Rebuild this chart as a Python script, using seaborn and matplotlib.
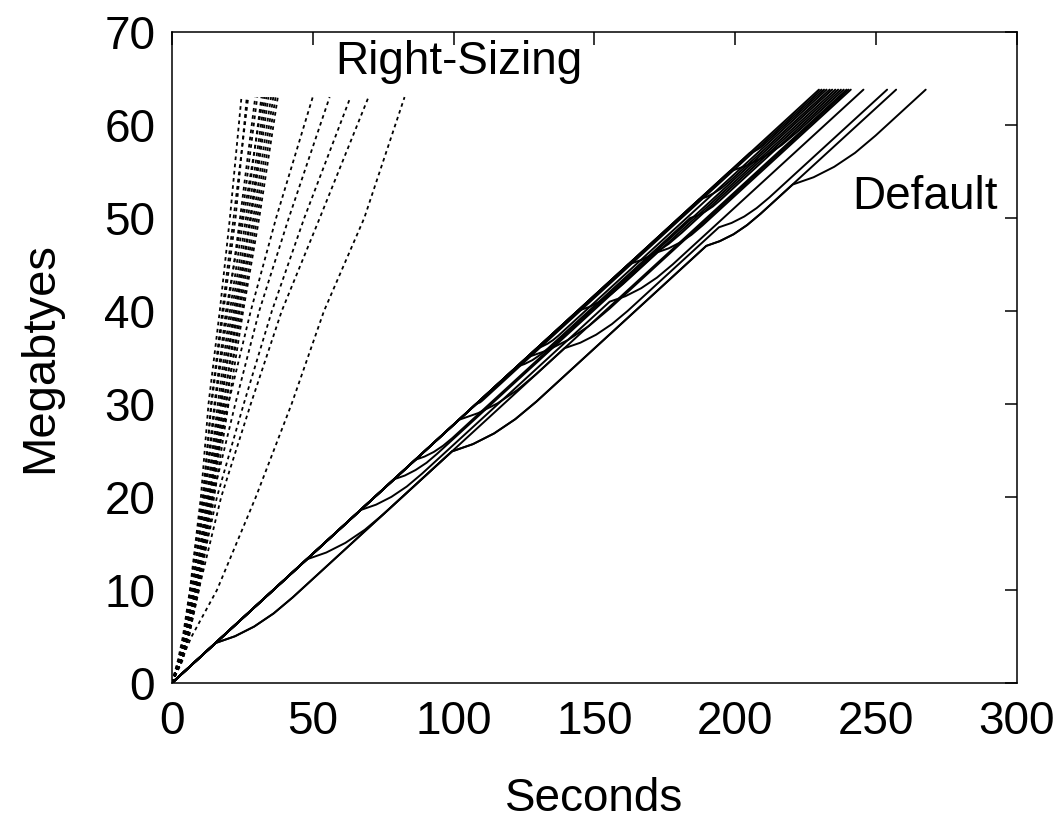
import pandas as pd
import matplotlib
matplotlib.use('Agg')
import matplotlib.pyplot as plt
import seaborn as sns

# Right-Sizing runs: seconds needed to reach each megabyte level
rs_mb = [0, 2.5, 5, 10, 20, 30, 40, 50, 63]
rs_c1 = [0, 2.2, 3.9, 6.4, 10.3, 13.0, 17.0, 20.6, 24.7]
rs_c2 = [0, 2.6, 4.1, 6.5, 10.9, 14.1, 18.3, 22.6, 26.6]
rs_c3 = [0, 2.4, 4.3, 7.3, 11.2, 13.9, 17.9, 21.9, 27.1]
rs_c4 = [0, 2.9, 4.5, 7.0, 11.9, 15.4, 19.8, 24.2, 29.6]
rs_c5 = [0, 2.7, 4.8, 7.6, 11.5, 15.1, 19.2, 24.9, 30.3]
rs_c6 = [0, 3.1, 4.7, 7.9, 12.6, 16.9, 21.3, 26.3, 31.8]
rs_c7 = [0, 3.0, 5.2, 8.1, 12.4, 16.3, 20.6, 25.4, 32.4]
rs_c8 = [0, 3.3, 5.0, 8.3, 13.3, 17.6, 22.0, 27.0, 33.0]
rs_c9 = [0, 3.2, 5.4, 8.6, 13.1, 17.4, 22.5, 27.8, 33.6]
rs_c10 = [0, 3.5, 5.5, 8.5, 13.8, 18.5, 23.0, 28.1, 34.3]
rs_c11 = [0, 3.4, 5.8, 9.0, 13.6, 18.2, 23.6, 28.9, 35.2]
rs_c12 = [0, 3.6, 5.6, 9.2, 14.4, 19.3, 24.1, 29.6, 36.0]
rs_c13 = [0, 3.7, 6.1, 9.1, 14.2, 19.0, 24.8, 30.3, 36.8]
rs_c14 = [0, 3.9, 6.0, 9.6, 15.0, 20.1, 25.3, 31.0, 37.6]
rs_a = [0, 3.0, 4.8, 7.8, 13.0, 20.0, 28.0, 37.0, 50.0]
rs_b = [0, 3.2, 5.0, 8.2, 14.5, 22.5, 31.0, 41.5, 56.0]
rs_c = [0, 3.4, 5.4, 8.8, 16.0, 25.5, 35.5, 47.0, 63.4]
rs_d = [0, 3.6, 5.8, 9.5, 17.5, 28.0, 39.0, 52.5, 69.8]
rs_e = [0, 3.4, 7.0, 16.0, 29.8, 42.5, 54.0, 68.3, 82.6]
rs_runs = [rs_c1, rs_c2, rs_c3, rs_c4, rs_c5, rs_c6, rs_c7, rs_c8, rs_c9,
           rs_c10, rs_c11, rs_c12, rs_c13, rs_c14, rs_a, rs_b, rs_c, rs_d, rs_e]

# Default runs: (seconds, megabytes) knots, the bends are the loss events
def_1 = [(0, 0), (229.7, 63.8)]
def_2 = [(0, 0), (205.2, 57), (206.5, 57.13), (207.7, 57.33), (209.0, 57.58), (210.2, 57.9), (231.5, 63.8)]
def_3 = [(0, 0), (187.2, 52), (189.9, 52.28), (192.5, 52.69), (195.2, 53.23), (197.8, 53.9), (233.5, 63.8)]
def_4 = [(0, 0), (144.0, 40), (148.1, 40.43), (152.1, 41.05), (156.2, 41.88), (160.2, 42.91), (235.5, 63.8)]
def_5 = [(0, 0), (122.4, 34), (125.2, 34.3), (128.0, 34.72), (130.8, 35.3), (133.6, 36.0),
         (184.0, 50), (186.7, 50.28), (189.3, 50.69), (192.0, 51.23), (194.6, 51.9), (237.5, 63.8)]
def_6 = [(0, 0), (101.9, 28.3), (108.8, 29.03), (115.6, 30.07), (122.5, 31.48), (129.3, 33.21), (239.5, 63.8)]
def_7 = [(0, 0), (78.8, 21.9), (82.7, 22.31), (86.5, 22.9), (90.4, 23.68), (94.2, 24.66),
         (172.2, 46.3), (176.3, 46.73), (180.3, 47.35), (184.4, 48.18), (188.4, 49.21), (241.0, 63.8)]
def_8 = [(0, 0), (67.0, 18.6), (72.5, 19.18), (77.9, 20.01), (83.4, 21.13), (88.8, 22.51),
         (155.4, 41), (161.0, 41.59), (166.6, 42.45), (172.2, 43.59), (177.8, 45.01), (245.5, 63.8)]
def_9 = [(0, 0), (47.9, 13.3), (54.8, 14.03), (61.6, 15.07), (68.5, 16.48), (75.3, 18.21),
         (139.4, 36), (145.0, 36.59), (150.6, 37.45), (156.2, 38.59), (161.8, 40.01),
         (194.2, 49), (198.7, 49.47), (203.2, 50.16), (207.6, 51.07), (212.1, 52.21), (253.9, 63.8)]
def_10 = [(0, 0), (15.5, 4.3), (22.4, 5.03), (29.2, 6.07), (36.1, 7.48), (42.9, 9.21),
          (99.4, 24.9), (106.9, 25.69), (114.4, 26.84), (121.9, 28.37), (129.4, 30.26),
          (189.7, 47), (194.5, 47.51), (199.4, 48.25), (204.2, 49.24), (209.0, 50.46), (257.1, 63.8)]
def_11 = [(0, 0), (15.5, 4.3), (22.4, 5.03), (29.2, 6.07), (36.1, 7.48), (42.9, 9.21),
          (99.4, 24.9), (106.9, 25.69), (114.4, 26.84), (121.9, 28.37), (129.4, 30.26),
          (189.7, 47), (194.5, 47.51), (199.4, 48.25), (204.2, 49.24), (209.0, 50.46),
          (220.4, 53.6), (227.8, 54.38), (235.1, 55.5), (242.5, 57.0), (249.8, 58.86), (267.6, 63.8)]
def_12 = [(0, 0), (108.0, 30), (108.6, 30.07), (109.3, 30.16), (109.9, 30.29), (110.5, 30.45), (230.6, 63.8)]
def_13 = [(0, 0), (129.6, 36), (131.5, 36.2), (133.4, 36.49), (135.3, 36.87), (137.2, 37.35), (232.4, 63.8)]
def_14 = [(0, 0), (86.4, 24), (89.7, 24.35), (93.0, 24.85), (96.3, 25.52), (99.6, 26.35), (234.4, 63.8)]
def_15 = [(0, 0), (162.0, 45), (166.8, 45.5), (171.5, 46.23), (176.3, 47.2), (181.0, 48.41), (236.5, 63.8)]
def_16 = [(0, 0), (198.0, 55), (204.2, 55.65), (210.3, 56.59), (216.5, 57.85), (222.6, 59.41), (238.5, 63.8)]
def_17 = [(0, 0), (126.0, 35), (133.4, 35.78), (140.7, 36.9), (148.1, 38.4), (155.4, 40.26), (240.2, 63.8)]
def_runs = [def_1, def_2, def_3, def_4, def_5, def_6, def_7, def_8, def_9,
            def_10, def_11, def_12, def_13, def_14, def_15, def_16, def_17]

# long form table for seaborn
rows = []
for i, ts in enumerate(rs_runs):
    for t, m in zip(ts, rs_mb):
        rows.append(('rs%d' % i, 'Right-Sizing', t, m))
for i, pts in enumerate(def_runs):
    for t, m in pts:
        rows.append(('def%d' % i, 'Default', t, m))
df = pd.DataFrame(rows, columns=['run', 'kind', 'Seconds', 'Megabytes'])

sns.set_theme(style='white')
plt.rcParams['font.family'] = ['Liberation Sans', 'DejaVu Sans']
plt.rcParams['text.color'] = 'black'
plt.rcParams['axes.labelcolor'] = 'black'

fig = plt.figure(figsize=(10.61, 8.35), dpi=100)
ax = fig.add_axes([0.162, 0.182, 0.7965, 0.7797])

sns.lineplot(data=df[df['kind'] == 'Default'], x='Seconds', y='Megabytes', units='run',
             estimator=None, sort=False, color='black', linewidth=1.4, legend=False, ax=ax)
sns.lineplot(data=df[df['kind'] == 'Right-Sizing'], x='Seconds', y='Megabytes', units='run',
             estimator=None, sort=False, color='black', linewidth=1.3, linestyle=(0, (2, 2)),
             legend=False, ax=ax)

ax.set_xlim(0, 300)
ax.set_ylim(0, 70)
ax.set_xticks(range(0, 301, 50))
ax.set_yticks(range(0, 71, 10))
ax.tick_params(direction='in', top=True, right=True, length=9, width=1.1,
               labelsize=33, colors='black', pad=12)
for sp in ax.spines.values():
    sp.set_color('black')
    sp.set_linewidth(1.1)

ax.set_xlabel('Seconds', fontsize=33, labelpad=24)
ax.set_ylabel('Megabtyes', fontsize=34, labelpad=30)

ax.text(57.9, 66.8, 'Right-Sizing', fontsize=33, ha='left', va='center')
ax.text(241.4, 52.3, 'Default', fontsize=33, ha='left', va='center')

fig.savefig('out.png', dpi=100, facecolor='white')
